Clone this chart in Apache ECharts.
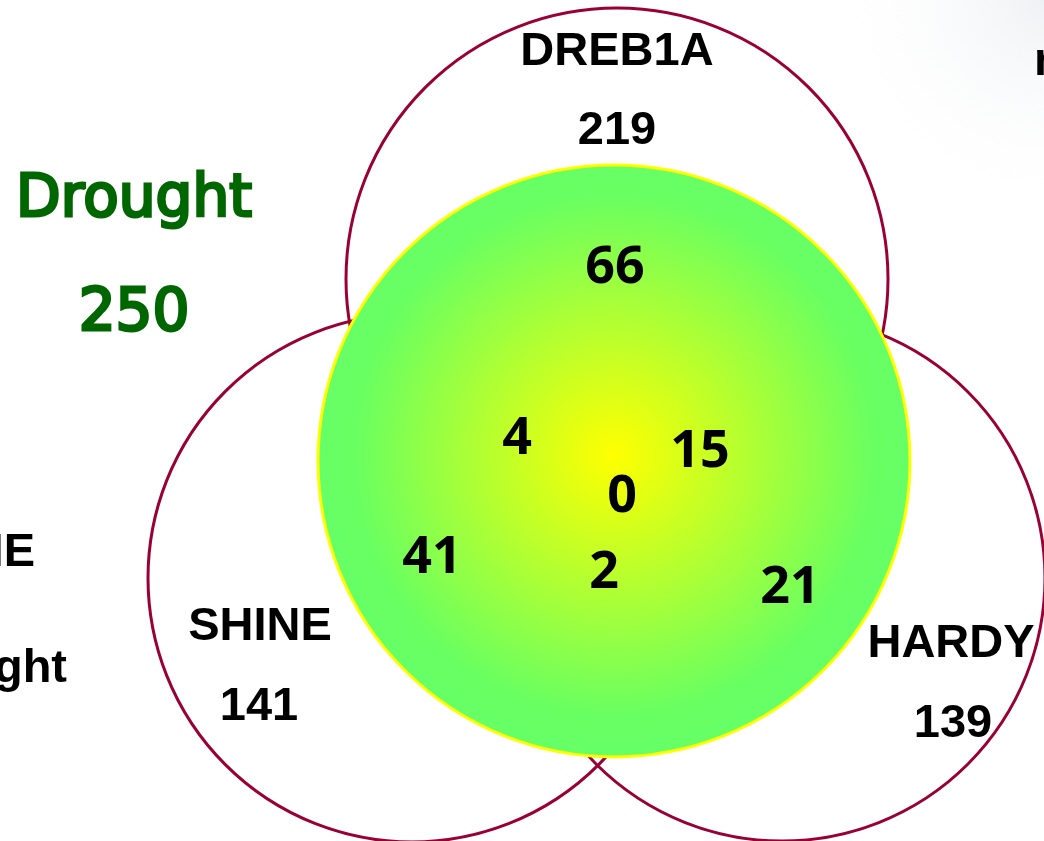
<!DOCTYPE html>
<html lang="en">
<head>
  <meta charset="UTF-8">
  <title>Drought Venn</title>
  <script src="https://cdn.jsdelivr.net/npm/echarts@6/dist/echarts.min.js"></script>
  <style>
    html, body { margin: 0; padding: 0; background: #fff; }
    #chart { width: 1044px; height: 841px; }
  </style>
</head>
<body>
<div id="chart"></div>
<script>
  // 三个基因集合及其总数
  var setNames = ['DREB1A', 'SHINE', 'HARDY'];
  var setTotals = [219, 141, 139];

  // Drought 集合
  var droughtName = 'Drought';
  var droughtTotal = 250;

  // 与 Drought 的交集区域数字
  var regionCounts = [66, 4, 15, 0, 41, 2, 21];

  // 背景里被截断的文字
  var edgeTexts = ['SHINE', 'Drought', 'n'];

  // ---- 布局（坐标轴单位 = 像素） ----
  var setCx = [617, 412, 782];
  var setCy = [279, 578, 578];
  var setR = [271, 264, 263];
  var nameX = [617, 260, 951];
  var nameY = [52, 627, 644];
  var totalX = [617, 259, 953];
  var totalY = [131, 707, 724];
  var droughtCircle = [614, 461, 296];
  var droughtLabelX = [134, 134];
  var droughtLabelY = [201, 315];
  var regionX = [615, 517, 700, 622, 432, 604, 790];
  var regionY = [268, 439, 452, 497, 558, 573, 588];
  var edgeX = [35, 67, 1034];
  var edgeY = [553, 669, 62];
  var edgeAlign = ['right', 'right', 'left'];

  var chart = echarts.init(document.getElementById('chart'));

  var outerCircles = setNames.map(function (n, i) {
    return [setCx[i], setCy[i], setR[i]];
  });

  var texts = [];
  setNames.forEach(function (n, i) {
    texts.push([nameX[i], nameY[i], n, 'set']);
    texts.push([totalX[i], totalY[i], String(setTotals[i]), 'set']);
  });
  texts.push([droughtLabelX[0], droughtLabelY[0], droughtName, 'drought']);
  texts.push([droughtLabelX[1], droughtLabelY[1], String(droughtTotal), 'drought']);
  regionCounts.forEach(function (v, i) {
    texts.push([regionX[i], regionY[i], String(v), 'region']);
  });

  var edgeData = edgeTexts.map(function (t, i) {
    return [edgeX[i], edgeY[i], t, edgeAlign[i]];
  });

  function circleItem(style) {
    return function (params, api) {
      var c = api.coord([api.value(0), api.value(1)]);
      var r = api.size([api.value(2), 0])[0];
      return { type: 'circle', shape: { cx: c[0], cy: c[1], r: r }, style: style };
    };
  }

  var textStyles = {
    set: { font: 'bold 47px "Liberation Sans", Arial, sans-serif', fill: '#000', stroke: null, lw: 0 },
    drought: { font: '58px "DejaVu Sans", sans-serif', fill: '#006600', stroke: '#006600', lw: 3 },
    region: { font: 'bold 52px "Noto Sans", sans-serif', fill: '#000', stroke: null, lw: 0 }
  };

  var option = {
    animation: false,
    backgroundColor: '#ffffff',
    graphic: [
      {
        // 右上角淡淡的灰色背景
        type: 'rect',
        z: -10,
        silent: true,
        shape: { x: 820, y: 0, width: 224, height: 240 },
        style: {
          fill: new echarts.graphic.RadialGradient(1, 0, 1, [
            { offset: 0, color: 'rgba(232,236,240,0.7)' },
            { offset: 1, color: 'rgba(255,255,255,0)' }
          ])
        }
      }
    ],
    grid: { left: 0, right: 0, top: 0, bottom: 0 },
    xAxis: { type: 'value', min: 0, max: 1044, show: false },
    yAxis: { type: 'value', min: 0, max: 841, inverse: true, show: false },
    series: [
      {
        type: 'custom',
        data: outerCircles,
        renderItem: circleItem({ fill: 'none', stroke: '#990033', lineWidth: 3 }),
        z: 1
      },
      {
        type: 'custom',
        data: [droughtCircle],
        renderItem: circleItem({
          fill: new echarts.graphic.RadialGradient(0.5, 0.49, 0.5, [
            { offset: 0, color: '#ffff00' },
            { offset: 0.88, color: '#68ff62' },
            { offset: 1, color: '#66ff66' }
          ]),
          stroke: '#ffff00',
          lineWidth: 3
        }),
        z: 2
      },
      {
        type: 'custom',
        data: texts,
        renderItem: function (params, api) {
          var c = api.coord([api.value(0), api.value(1)]);
          var s = textStyles[api.value(3)];
          var style = { text: api.value(2), font: s.font, fill: s.fill, align: 'center', verticalAlign: 'middle' };
          if (s.stroke) {
            style.stroke = s.stroke;
            style.lineWidth = s.lw;
          }
          return { type: 'text', x: c[0], y: c[1], style: style };
        },
        z: 3
      },
      {
        type: 'custom',
        data: edgeData,
        renderItem: function (params, api) {
          var c = api.coord([api.value(0), api.value(1)]);
          return {
            type: 'text',
            x: c[0], y: c[1],
            style: {
              text: api.value(2),
              font: 'bold 47px "Liberation Sans", Arial, sans-serif',
              fill: '#000', align: api.value(3), verticalAlign: 'middle'
            }
          };
        },
        z: 3
      }
    ]
  };

  chart.setOption(option);
</script>
</body>
</html>
